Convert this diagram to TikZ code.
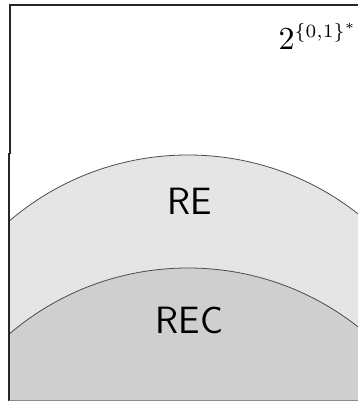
\documentclass[tikz,border=0pt]{standalone}
\usepackage{graphicx}
\usepackage{amsmath}
\begin{document}
\begin{tikzpicture}[x=1pt,y=-1pt,
  frame/.style={draw=black!85,line width=1.4pt},
  arcline/.style={draw=black!70,line width=0.8pt},
  lbl/.style={font=\sffamily\fontsize{38}{40}\selectfont,inner sep=0pt}]
\useasboundingbox (0,0) rectangle (358,402);
% regions
\begin{scope}
  \clip (9.5,0) rectangle (358,400);
  \fill[black!10] (188,430) circle (275);
  \fill[black!19] (188,543) circle (275);
  \draw[arcline] (188,430) circle (275);
  \draw[arcline] (188,543) circle (275);
\end{scope}
% frame
\draw[frame] (10,153.5) -- (10,5) -- (358.5,5);
\draw[frame] (8.8,152.5) -- (8.8,400.5);
\draw[draw=black!45,line width=0.8pt] (8.8,400.3) -- (358.5,400.3);
% labels
\node[lbl] (re) at (189.5,201) {RE};
\node[lbl] (rec) at (189.5,320.5) {REC};
\node[anchor=base west,inner sep=0pt] (all) at (278.5,49.3) {\scalebox{3.2}{\normalsize $2^{\scalebox{0.84}{$\scriptstyle\{0,1\}^*$}}$}};
\end{tikzpicture}
\end{document}
